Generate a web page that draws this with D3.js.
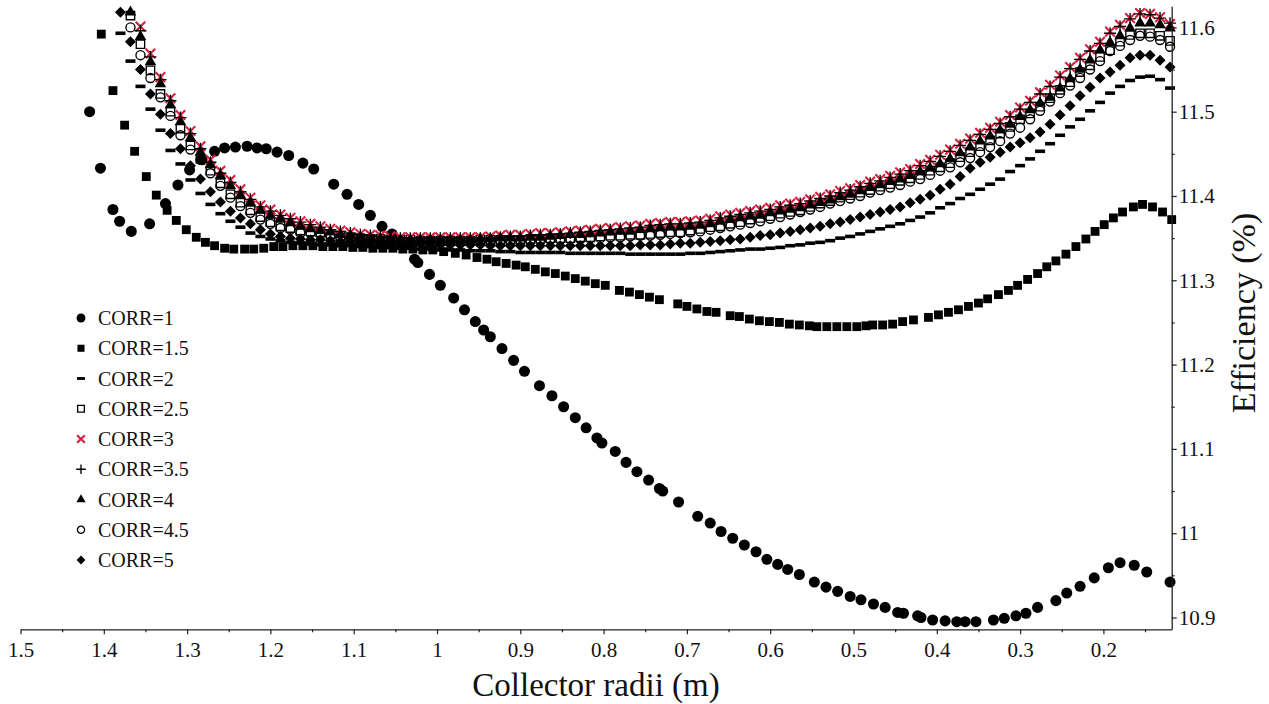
<!DOCTYPE html>
<html>
<head>
<meta charset="utf-8">
<script src="https://cdn.jsdelivr.net/npm/d3@7"></script>
<style>
  html, body { margin: 0; padding: 0; background: #fff; }
  svg { display: block; font-family: "Liberation Serif", "Times New Roman", serif; }
</style>
</head>
<body>
<svg id="chart" width="1269" height="704"></svg>
<script>
// ---- axis ticks ----
const xTickValues = [1.5, 1.4, 1.3, 1.2, 1.1, 1.0, 0.9, 0.8, 0.7, 0.6, 0.5, 0.4, 0.3, 0.2];
const xTickLabels = ["1.5", "1.4", "1.3", "1.2", "1.1", "1", "0.9", "0.8", "0.7", "0.6", "0.5", "0.4", "0.3", "0.2"];
const xMinorTicks = [1.45, 1.35, 1.25, 1.15, 1.05, 0.95, 0.85, 0.75, 0.65, 0.55, 0.45, 0.35, 0.25, 0.15];
const yTickValues = [10.9, 11.0, 11.1, 11.2, 11.3, 11.4, 11.5, 11.6];
const yTickLabels = ["10.9", "11", "11.1", "11.2", "11.3", "11.4", "11.5", "11.6"];
const yMinorTicks = [10.95, 11.05, 11.15, 11.25, 11.35, 11.45, 11.55];

const seriesNames = ["CORR=1", "CORR=1.5", "CORR=2", "CORR=2.5", "CORR=3", "CORR=3.5", "CORR=4", "CORR=4.5", "CORR=5"];

// ---- CORR=1 : collector radius (m) and efficiency (%) ----
const radiiCorr1 = [1.417, 1.404, 1.389, 1.381, 1.367, 1.345, 1.326, 1.311, 1.297, 1.282,
  1.267, 1.255, 1.242, 1.228, 1.216, 1.205, 1.192, 1.178, 1.161, 1.148,
  1.124, 1.108, 1.094, 1.080, 1.066, 1.054, 1.041, 1.027, 1.023, 1.009,
  0.996, 0.980, 0.967, 0.954, 0.944, 0.936, 0.922, 0.908, 0.895, 0.877,
  0.862, 0.848, 0.834, 0.821, 0.808, 0.802, 0.786, 0.773, 0.760, 0.746,
  0.733, 0.729, 0.710, 0.687, 0.672, 0.659, 0.645, 0.631, 0.617, 0.604,
  0.591, 0.579, 0.565, 0.547, 0.533, 0.519, 0.504, 0.491, 0.476, 0.462,
  0.447, 0.440, 0.423, 0.419, 0.405, 0.390, 0.376, 0.366, 0.353, 0.332,
  0.319, 0.305, 0.293, 0.279, 0.257, 0.244, 0.228, 0.211, 0.194, 0.180,
  0.163, 0.148, 0.120];
const effCorr1 = [11.500, 11.433, 11.384, 11.370, 11.358, 11.367, 11.391, 11.413, 11.431, 11.443,
  11.453, 11.457, 11.458, 11.459, 11.457, 11.456, 11.452, 11.448, 11.439, 11.432,
  11.414, 11.402, 11.390, 11.377, 11.364, 11.355, 11.340, 11.325, 11.321, 11.307,
  11.294, 11.279, 11.265, 11.251, 11.241, 11.233, 11.219, 11.205, 11.192, 11.175,
  11.163, 11.150, 11.137, 11.125, 11.113, 11.107, 11.097, 11.084, 11.073, 11.063,
  11.053, 11.050, 11.037, 11.020, 11.012, 11.002, 10.994, 10.986, 10.978, 10.969,
  10.963, 10.957, 10.951, 10.942, 10.936, 10.931, 10.925, 10.921, 10.916, 10.912,
  10.906, 10.905, 10.902, 10.900, 10.897, 10.896, 10.895, 10.895, 10.895, 10.897,
  10.899, 10.902, 10.905, 10.912, 10.920, 10.929, 10.937, 10.947, 10.959, 10.965,
  10.962, 10.954, 10.942];

// ---- CORR=1.5 ----
const radiiCorr15 = [1.403, 1.389, 1.375, 1.363, 1.349, 1.337, 1.324, 1.313, 1.301, 1.289,
  1.278, 1.267, 1.255, 1.244, 1.231, 1.220, 1.208, 1.196, 1.185, 1.173,
  1.161, 1.149, 1.137, 1.125, 1.113, 1.101, 1.089, 1.077, 1.065, 1.053,
  1.041, 1.029, 1.017, 1.005, 0.992, 0.978, 0.965, 0.952, 0.940, 0.929,
  0.917, 0.905, 0.894, 0.882, 0.870, 0.858, 0.846, 0.834, 0.822, 0.810,
  0.798, 0.781, 0.769, 0.757, 0.745, 0.733, 0.711, 0.700, 0.688, 0.676,
  0.665, 0.648, 0.637, 0.625, 0.613, 0.601, 0.589, 0.577, 0.565, 0.553,
  0.544, 0.532, 0.520, 0.508, 0.496, 0.485, 0.477, 0.465, 0.453, 0.441,
  0.428, 0.410, 0.398, 0.386, 0.374, 0.362, 0.350, 0.339, 0.326, 0.314,
  0.303, 0.291, 0.279, 0.268, 0.257, 0.245, 0.233, 0.221, 0.210, 0.199,
  0.188, 0.177, 0.164, 0.153, 0.141, 0.129, 0.118];
const effCorr15 = [11.592, 11.525, 11.484, 11.453, 11.423, 11.401, 11.383, 11.371, 11.360, 11.351,
  11.345, 11.341, 11.338, 11.337, 11.337, 11.337, 11.338, 11.340, 11.340, 11.341,
  11.341, 11.341, 11.340, 11.340, 11.340, 11.339, 11.339, 11.338, 11.338, 11.338,
  11.337, 11.337, 11.336, 11.336, 11.334, 11.332, 11.330, 11.327, 11.325, 11.322,
  11.320, 11.318, 11.316, 11.313, 11.310, 11.308, 11.305, 11.302, 11.299, 11.296,
  11.294, 11.288, 11.286, 11.283, 11.280, 11.277, 11.272, 11.269, 11.266, 11.263,
  11.262, 11.258, 11.257, 11.254, 11.252, 11.251, 11.250, 11.248, 11.247, 11.246,
  11.245, 11.245, 11.245, 11.245, 11.245, 11.246, 11.247, 11.247, 11.248, 11.251,
  11.253, 11.256, 11.259, 11.262, 11.265, 11.269, 11.273, 11.278, 11.283, 11.288,
  11.294, 11.301, 11.308, 11.316, 11.323, 11.331, 11.340, 11.349, 11.358, 11.366,
  11.374, 11.381, 11.387, 11.390, 11.387, 11.381, 11.372];

// ---- CORR=2 .. CORR=5 share one radius grid (smallest radius first) ----
const radiiGrid = [0.120, 0.132, 0.144, 0.156, 0.168, 0.180, 0.192, 0.204, 0.216, 0.228,
  0.240, 0.252, 0.264, 0.276, 0.288, 0.300, 0.312, 0.324, 0.336, 0.348,
  0.360, 0.372, 0.384, 0.396, 0.408, 0.420, 0.432, 0.444, 0.456, 0.468,
  0.480, 0.492, 0.504, 0.516, 0.528, 0.540, 0.552, 0.564, 0.576, 0.588,
  0.600, 0.612, 0.624, 0.636, 0.648, 0.660, 0.672, 0.684, 0.696, 0.708,
  0.720, 0.732, 0.744, 0.756, 0.768, 0.780, 0.792, 0.804, 0.816, 0.828,
  0.840, 0.852, 0.864, 0.876, 0.888, 0.900, 0.912, 0.924, 0.936, 0.948,
  0.960, 0.972, 0.984, 0.996, 1.008, 1.020, 1.032, 1.044, 1.056, 1.068,
  1.080, 1.092, 1.104, 1.116, 1.128, 1.140, 1.152, 1.164, 1.176, 1.188,
  1.200, 1.212, 1.224, 1.236, 1.248, 1.260, 1.272, 1.284, 1.296, 1.308,
  1.320, 1.332, 1.344, 1.356, 1.368, 1.380];

const effCorr2 = [11.528, 11.538, 11.542, 11.541, 11.537, 11.530, 11.522, 11.511, 11.501, 11.491,
  11.482, 11.472, 11.462, 11.453, 11.444, 11.436, 11.429, 11.420, 11.414, 11.408,
  11.402, 11.397, 11.391, 11.386, 11.380, 11.375, 11.371, 11.367, 11.364, 11.361,
  11.358, 11.355, 11.352, 11.350, 11.347, 11.345, 11.344, 11.342, 11.341, 11.339,
  11.338, 11.337, 11.337, 11.336, 11.335, 11.334, 11.333, 11.332, 11.332, 11.331,
  11.331, 11.331, 11.331, 11.331, 11.331, 11.332, 11.332, 11.332, 11.332, 11.332,
  11.332, 11.333, 11.333, 11.333, 11.333, 11.333, 11.334, 11.334, 11.335, 11.335,
  11.335, 11.336, 11.336, 11.336, 11.337, 11.337, 11.338, 11.338, 11.339, 11.339,
  11.340, 11.340, 11.341, 11.341, 11.342, 11.342, 11.343, 11.344, 11.345, 11.347,
  11.349, 11.352, 11.356, 11.363, 11.370, 11.379, 11.390, 11.403, 11.419, 11.438,
  11.454, 11.478, 11.503, 11.530, 11.560, 11.593];

const effCorr25 = [11.584, 11.590, 11.593, 11.593, 11.591, 11.583, 11.573, 11.565, 11.555, 11.547,
  11.535, 11.526, 11.516, 11.506, 11.498, 11.491, 11.482, 11.474, 11.466, 11.459,
  11.452, 11.446, 11.439, 11.434, 11.430, 11.425, 11.421, 11.418, 11.414, 11.411,
  11.407, 11.404, 11.401, 11.398, 11.394, 11.391, 11.387, 11.383, 11.381, 11.379,
  11.376, 11.374, 11.372, 11.369, 11.367, 11.364, 11.363, 11.361, 11.359, 11.357,
  11.357, 11.356, 11.355, 11.354, 11.354, 11.353, 11.353, 11.352, 11.351, 11.351,
  11.350, 11.350, 11.350, 11.349, 11.349, 11.348, 11.348, 11.348, 11.348, 11.348,
  11.347, 11.347, 11.347, 11.347, 11.347, 11.347, 11.348, 11.348, 11.348, 11.349,
  11.349, 11.350, 11.351, 11.353, 11.355, 11.357, 11.358, 11.359, 11.362, 11.364,
  11.369, 11.375, 11.383, 11.392, 11.402, 11.415, 11.430, 11.444, 11.460, 11.480,
  11.500, 11.521, 11.549, 11.580, 11.614];

const effCorr3 = [11.604, 11.612, 11.616, 11.617, 11.611, 11.603, 11.595, 11.583, 11.574, 11.564,
  11.553, 11.543, 11.532, 11.523, 11.513, 11.505, 11.496, 11.488, 11.481, 11.475,
  11.468, 11.462, 11.455, 11.449, 11.443, 11.438, 11.432, 11.428, 11.424, 11.420,
  11.417, 11.413, 11.409, 11.406, 11.402, 11.399, 11.396, 11.393, 11.391, 11.389,
  11.386, 11.384, 11.382, 11.380, 11.378, 11.376, 11.373, 11.371, 11.370, 11.369,
  11.369, 11.368, 11.367, 11.365, 11.364, 11.363, 11.362, 11.361, 11.360, 11.359,
  11.358, 11.357, 11.356, 11.356, 11.355, 11.354, 11.354, 11.353, 11.352, 11.351,
  11.351, 11.351, 11.351, 11.351, 11.351, 11.351, 11.351, 11.351, 11.352, 11.353,
  11.354, 11.355, 11.357, 11.359, 11.361, 11.364, 11.367, 11.370, 11.374, 11.378,
  11.384, 11.389, 11.398, 11.408, 11.419, 11.430, 11.443, 11.459, 11.477, 11.496,
  11.516, 11.541, 11.569, 11.601];

const effCorr35 = [11.605, 11.611, 11.615, 11.616, 11.610, 11.601, 11.593, 11.581, 11.572, 11.562,
  11.551, 11.541, 11.530, 11.521, 11.511, 11.503, 11.494, 11.486, 11.479, 11.473,
  11.466, 11.460, 11.453, 11.447, 11.441, 11.436, 11.430, 11.426, 11.422, 11.418,
  11.415, 11.411, 11.407, 11.404, 11.400, 11.397, 11.394, 11.391, 11.389, 11.387,
  11.384, 11.382, 11.380, 11.378, 11.376, 11.374, 11.371, 11.369, 11.368, 11.367,
  11.367, 11.366, 11.365, 11.363, 11.362, 11.361, 11.360, 11.359, 11.358, 11.357,
  11.356, 11.355, 11.354, 11.354, 11.353, 11.352, 11.352, 11.351, 11.350, 11.350,
  11.350, 11.350, 11.350, 11.350, 11.350, 11.350, 11.350, 11.350, 11.351, 11.352,
  11.353, 11.354, 11.356, 11.358, 11.360, 11.363, 11.366, 11.369, 11.373, 11.377,
  11.382, 11.387, 11.396, 11.405, 11.416, 11.427, 11.440, 11.456, 11.474, 11.493,
  11.513, 11.538, 11.565, 11.596];

const effCorr4 = [11.599, 11.603, 11.605, 11.605, 11.599, 11.590, 11.582, 11.573, 11.561, 11.550,
  11.539, 11.528, 11.517, 11.510, 11.502, 11.494, 11.485, 11.478, 11.471, 11.465,
  11.458, 11.451, 11.444, 11.438, 11.433, 11.429, 11.424, 11.420, 11.417, 11.413,
  11.410, 11.406, 11.402, 11.399, 11.395, 11.392, 11.389, 11.386, 11.384, 11.382,
  11.380, 11.377, 11.376, 11.374, 11.372, 11.370, 11.367, 11.365, 11.364, 11.363,
  11.363, 11.362, 11.361, 11.360, 11.358, 11.358, 11.357, 11.356, 11.355, 11.354,
  11.354, 11.353, 11.352, 11.351, 11.351, 11.350, 11.350, 11.350, 11.349, 11.349,
  11.348, 11.348, 11.348, 11.348, 11.348, 11.348, 11.348, 11.348, 11.349, 11.349,
  11.350, 11.351, 11.353, 11.354, 11.357, 11.359, 11.361, 11.364, 11.368, 11.373,
  11.377, 11.383, 11.392, 11.401, 11.412, 11.424, 11.437, 11.452, 11.469, 11.488,
  11.508, 11.533, 11.559, 11.589, 11.618];

const effCorr45 = [11.577, 11.585, 11.589, 11.590, 11.585, 11.578, 11.572, 11.560, 11.550, 11.540,
  11.531, 11.522, 11.512, 11.501, 11.491, 11.481, 11.474, 11.465, 11.458, 11.452,
  11.445, 11.440, 11.434, 11.430, 11.425, 11.420, 11.417, 11.413, 11.410, 11.407,
  11.404, 11.400, 11.397, 11.394, 11.391, 11.387, 11.384, 11.381, 11.378, 11.375,
  11.373, 11.370, 11.368, 11.366, 11.364, 11.362, 11.360, 11.358, 11.357, 11.356,
  11.355, 11.354, 11.353, 11.353, 11.352, 11.351, 11.351, 11.350, 11.350, 11.349,
  11.349, 11.348, 11.348, 11.348, 11.347, 11.347, 11.347, 11.347, 11.347, 11.346,
  11.346, 11.346, 11.346, 11.346, 11.346, 11.346, 11.346, 11.347, 11.347, 11.347,
  11.348, 11.349, 11.350, 11.351, 11.353, 11.354, 11.356, 11.356, 11.360, 11.362,
  11.367, 11.372, 11.380, 11.388, 11.398, 11.412, 11.427, 11.443, 11.455, 11.472,
  11.495, 11.517, 11.540, 11.567, 11.600];

const effCorr5 = [11.553, 11.561, 11.567, 11.567, 11.564, 11.555, 11.547, 11.540, 11.529, 11.519,
  11.507, 11.496, 11.485, 11.476, 11.469, 11.463, 11.458, 11.452, 11.446, 11.440,
  11.433, 11.423, 11.414, 11.408, 11.401, 11.396, 11.392, 11.387, 11.384, 11.381,
  11.378, 11.375, 11.372, 11.369, 11.367, 11.364, 11.362, 11.360, 11.358, 11.356,
  11.354, 11.353, 11.351, 11.349, 11.348, 11.347, 11.346, 11.345, 11.344, 11.344,
  11.343, 11.342, 11.342, 11.342, 11.341, 11.341, 11.341, 11.341, 11.341, 11.341,
  11.341, 11.341, 11.341, 11.341, 11.341, 11.341, 11.341, 11.341, 11.341, 11.342,
  11.342, 11.342, 11.342, 11.342, 11.342, 11.343, 11.343, 11.344, 11.344, 11.344,
  11.345, 11.345, 11.346, 11.346, 11.347, 11.348, 11.348, 11.349, 11.350, 11.352,
  11.355, 11.360, 11.367, 11.374, 11.382, 11.393, 11.405, 11.420, 11.436, 11.456,
  11.474, 11.497, 11.521, 11.550, 11.583, 11.618];

const RED = "#d81e3c";

// series table assembled from the arrays above
const series = [
  { name: seriesNames[0], radii: radiiCorr1, eff: effCorr1, marker: "disc", color: "#000" },
  { name: seriesNames[1], radii: radiiCorr15, eff: effCorr15, marker: "square", color: "#000" },
  { name: seriesNames[2], radii: radiiGrid, eff: effCorr2, marker: "dash", color: "#000" },
  { name: seriesNames[3], radii: radiiGrid, eff: effCorr25, marker: "openSquare", color: "#000" },
  { name: seriesNames[4], radii: radiiGrid, eff: effCorr3, marker: "times", color: RED },
  { name: seriesNames[5], radii: radiiGrid, eff: effCorr35, marker: "plus", color: "#000" },
  { name: seriesNames[6], radii: radiiGrid, eff: effCorr4, marker: "triangle", color: "#000" },
  { name: seriesNames[7], radii: radiiGrid, eff: effCorr45, marker: "ring", color: "#000" },
  { name: seriesNames[8], radii: radiiGrid, eff: effCorr5, marker: "diamond", color: "#000" }
];

// ---- scales ----
const x = d3.scaleLinear().domain([1.5, 0.118]).range([20.5, 1171.7]);
const y = d3.scaleLinear().domain([10.886, 11.625]).range([629.3, 6.3]);

const svg = d3.select("#chart");

// ---- marker shapes ----
function markerPath(kind, k) {
  switch (kind) {
    case "disc": return d3.symbol(d3.symbolCircle, 96 * k * k)();
    case "square": return d3.symbol(d3.symbolSquare, 78 * k * k)();
    case "dash": { const w = 5 * k, h = 1.8 * k; return `M${-w},${-h}H${w}V${h}H${-w}Z`; }
    case "openSquare": { const s = 4.2 * k; return `M${-s},${-s}H${s}V${s}H${-s}Z`; }
    case "times": { const s = 4.8 * k; return `M${-s},${-s}L${s},${s}M${-s},${s}L${s},${-s}`; }
    case "plus": { const s = 6 * k; return `M${-s},0H${s}M0,${-s}V${s}`; }
    case "triangle": return d3.symbol(d3.symbolTriangle, 58 * k * k)();
    case "ring": return d3.symbol(d3.symbolCircle, 64 * k * k)();
    case "diamond": { const s = 5.5 * k; return `M0,${-s}L${s},0L0,${s}L${-s},0Z`; }
  }
}
function styleMarker(sel, s) {
  const stroked = ["openSquare", "times", "plus", "ring"].includes(s.marker);
  sel.attr("fill", stroked ? "none" : s.color)
     .attr("stroke", stroked ? s.color : "none")
     .attr("stroke-width", s.marker === "times" ? 2.1 : 1.35);
}

// ---- data points ----
const plot = svg.append("g").attr("class", "points");
series.forEach(s => {
  const pts = s.eff.map((v, i) => [s.radii[i], v]);
  const g = plot.append("g");
  g.selectAll("path").data(pts).join("path")
    .attr("d", markerPath(s.marker, 1))
    .attr("transform", d => `translate(${x(d[0])},${y(d[1])})`)
    .call(styleMarker, s);
});

// ---- bottom axis ----
const xAxisG = svg.append("g").attr("transform", `translate(0,${y(10.886)})`);
xAxisG.call(d3.axisBottom(x).tickValues(xTickValues)
  .tickFormat((d, i) => xTickLabels[i]).tickSize(5).tickSizeOuter(0).tickPadding(8));
xAxisG.append("g").call(d3.axisBottom(x).tickValues(xMinorTicks)
  .tickFormat("").tickSize(3).tickSizeOuter(0))
  .select(".domain").remove();

// ---- right axis ----
const yAxisG = svg.append("g").attr("transform", `translate(${x(0.118)},0)`);
yAxisG.call(d3.axisRight(y).tickValues(yTickValues)
  .tickFormat((d, i) => yTickLabels[i]).tickSize(5).tickSizeOuter(0).tickPadding(2));
yAxisG.append("g").call(d3.axisRight(y).tickValues(yMinorTicks)
  .tickFormat("").tickSize(3).tickSizeOuter(0))
  .select(".domain").remove();

svg.selectAll(".domain").attr("stroke", "#222").attr("stroke-width", 1.3);
svg.selectAll(".tick line").attr("stroke", "#222").attr("stroke-width", 1.2);
svg.selectAll(".tick text").attr("font-family", "'Liberation Serif', 'Times New Roman', serif")
  .attr("font-size", 21).attr("fill", "#111");

// ---- axis titles ----
svg.append("text")
  .attr("x", 596).attr("y", 696)
  .attr("text-anchor", "middle")
  .attr("font-size", 33).attr("fill", "#111")
  .text("Collector radii (m)");

svg.append("text")
  .attr("transform", "translate(1255,313) rotate(-90)")
  .attr("text-anchor", "middle")
  .attr("font-size", 34).attr("fill", "#111")
  .text("Efficiency (%)");

// ---- legend ----
const legend = svg.append("g").attr("transform", "translate(81,318)");
series.forEach((s, i) => {
  const row = legend.append("g").attr("transform", `translate(0,${i * 30.25})`);
  row.append("path").attr("d", markerPath(s.marker, 0.8)).call(styleMarker, s);
  row.append("text").attr("x", 17).attr("dy", "0.35em")
    .attr("font-size", 20).attr("fill", "#111").text(s.name);
});
</script>
</body>
</html>
